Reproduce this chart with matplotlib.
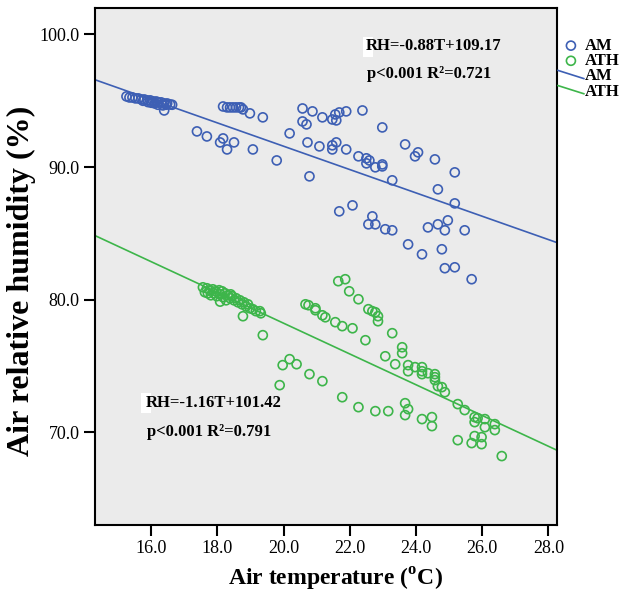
"""
Air relative humidity vs air temperature, AM vs ATH sites, with linear fits.
"""
import matplotlib
matplotlib.use("Agg")
import matplotlib.pyplot as plt
from matplotlib.legend_handler import HandlerBase
from matplotlib.lines import Line2D
from matplotlib.patches import Rectangle
import numpy as np

plt.rcParams["font.family"] = ["Liberation Serif", "DejaVu Serif"]
plt.rcParams["mathtext.fontset"] = "custom"
plt.rcParams["mathtext.rm"] = "Liberation Serif"
plt.rcParams["mathtext.bf"] = "Liberation Serif:bold"

BLUE  = "#3d5fb4"
GREEN = "#3db54a"
BG    = "#ebebeb"

# --- AM (blue) -------------------------------------------------------------
am_t = [15.25, 15.34, 15.43, 15.52, 15.61, 15.70, 15.79, 15.88, 15.97, 16.06,
        16.15, 16.21, 16.30, 16.39, 16.48, 16.57, 15.75, 15.90, 16.00, 16.10,
        16.20, 16.35, 16.45, 16.39, 16.63,
        18.17, 18.29, 18.38, 18.47, 18.56, 18.65, 18.71, 18.77, 18.98, 19.37,
        17.38, 17.68, 18.08, 18.17, 18.29, 18.50, 19.07, 19.79, 20.18, 20.57,
        20.57, 20.69, 20.72, 20.78, 20.87, 21.17, 21.47, 21.56, 21.59, 21.68,
        21.89, 22.38, 22.98, 21.08, 21.47, 21.47, 21.59, 21.89, 22.26, 22.50,
        22.50, 22.59, 22.77, 22.98, 22.98, 23.28, 23.67, 23.97, 24.06, 24.57,
        25.17, 24.66, 25.17, 21.68, 22.08, 22.68, 22.56, 22.77, 23.07, 23.28,
        24.36, 24.66, 24.87, 24.96, 25.47, 23.76, 24.18, 24.78, 24.87, 25.17,
        25.68]
am_rh = [95.33, 95.25, 95.25, 95.18, 95.18, 95.10, 95.10, 95.03, 95.03, 94.95,
         94.95, 94.88, 94.88, 94.80, 94.80, 94.72, 95.00, 94.90, 94.85, 94.80,
         94.70, 94.65, 94.70, 94.27, 94.70,
         94.57, 94.50, 94.50, 94.50, 94.50, 94.50, 94.50, 94.35, 94.05, 93.75,
         92.69, 92.31, 91.86, 92.16, 91.33, 91.86, 91.33, 90.50, 92.54, 94.42,
         93.44, 93.22, 91.86, 89.30, 94.20, 93.75, 93.59, 93.97, 93.52, 94.12,
         94.20, 94.27, 92.99, 91.56, 91.64, 91.33, 91.86, 91.33, 90.81, 90.66,
         90.28, 90.50, 89.98, 90.20, 90.05, 89.00, 91.71, 90.81, 91.11, 90.58,
         89.60, 88.32, 87.26, 86.66, 87.11, 86.28, 85.68, 85.68, 85.31, 85.23,
         85.45, 85.68, 85.23, 85.98, 85.23, 84.17, 83.42, 83.80, 82.37, 82.44,
         81.54]

# --- ATH (green) -----------------------------------------------------------
ath_t = [17.56, 17.62, 17.68, 17.71, 17.77, 17.80, 17.86, 17.89, 17.95, 17.98,
         18.05, 18.08, 18.14, 18.17, 18.23, 18.26, 18.32, 18.38, 18.44, 18.50,
         18.56, 18.62, 18.68, 18.74, 18.80, 18.86, 18.92, 18.98, 19.07, 19.16,
         19.28, 19.31, 18.77, 18.08, 18.40,
         19.37, 19.88, 19.97, 20.18, 20.39, 20.66, 20.75, 20.96, 20.96, 21.17,
         21.26, 21.56, 21.77, 22.08, 20.78, 21.17, 21.77, 21.65, 21.86, 21.98,
         22.26, 22.56, 22.68, 22.77, 22.85, 22.85, 22.47, 23.28, 23.58, 23.58,
         23.07, 23.37, 23.76, 23.76, 23.97, 24.18, 24.18, 24.18, 24.36, 24.57,
         24.57, 24.57, 24.66, 24.78, 24.87, 25.26, 25.47, 25.77, 25.77, 25.86,
         26.08, 26.08, 26.38, 26.38, 22.26, 22.77, 23.16, 23.67, 23.76, 23.67,
         24.18, 24.48, 24.48, 25.26, 25.77, 25.68, 25.98, 25.98, 26.59]
ath_rh = [80.93, 80.56, 80.86, 80.48, 80.71, 80.33, 80.78, 80.48, 80.63, 80.26,
          80.71, 80.41, 80.63, 80.18, 80.48, 79.95, 80.33, 80.11, 80.26, 79.95,
          80.11, 79.80, 79.95, 79.65, 79.80, 79.50, 79.65, 79.35, 79.28, 79.13,
          79.13, 78.97, 78.75, 79.85, 80.40,
          77.32, 73.55, 75.06, 75.51, 75.13, 79.65, 79.58, 79.35, 79.20, 78.82,
          78.67, 78.30, 78.00, 77.84, 74.38, 73.85, 72.64, 81.39, 81.54, 80.63,
          80.03, 79.28, 79.13, 79.05, 78.75, 78.37, 76.94, 77.47, 76.41, 75.96,
          75.73, 75.13, 75.06, 74.60, 74.91, 74.91, 74.60, 74.38, 74.45, 74.38,
          74.15, 73.93, 73.47, 73.40, 73.02, 72.12, 71.67, 71.14, 70.76, 71.06,
          70.99, 70.38, 70.61, 70.16, 71.89, 71.59, 71.59, 72.19, 71.74, 71.29,
          70.99, 71.14, 70.46, 69.40, 69.71, 69.18, 69.63, 69.10, 68.20]

# fitted lines: RH = slope * T + intercept
am_fit  = (-0.88, 109.17)
ath_fit = (-1.16, 101.42)

XLIM = (14.3, 28.26)
YLIM = (63.0, 102.0)
xticks = [16, 18, 20, 22, 24, 26, 28]
yticks = [70, 80, 90, 100]


class SlantLine(HandlerBase):
    # SPSS draws the fit-line legend keys as short diagonal strokes
    def create_artists(self, legend, orig_handle, xdescent, ydescent,
                       width, height, fontsize, trans):
        ln = Line2D([-xdescent, width - xdescent],
                    [height * 0.85 - ydescent, height * 0.15 - ydescent],
                    color=orig_handle.get_color(),
                    lw=orig_handle.get_linewidth(), transform=trans)
        return [ln]


fig = plt.figure(figsize=(6.21, 5.95), dpi=100)
ax = fig.add_axes([0.153, 0.1176, 0.744, 0.869])
ax.set_facecolor(BG)

sc_am = ax.scatter(am_t, am_rh, s=42, facecolors="none", edgecolors=BLUE,
                   linewidths=1.2, zorder=3)
sc_ath = ax.scatter(ath_t, ath_rh, s=42, facecolors="none", edgecolors=GREEN,
                    linewidths=1.2, zorder=3)

xx = np.array(XLIM)
ln_am, = ax.plot(xx, am_fit[0] * xx + am_fit[1], color=BLUE, lw=1.2, zorder=2)
ln_ath, = ax.plot(xx, ath_fit[0] * xx + ath_fit[1], color=GREEN, lw=1.2, zorder=2)

ax.set_xlim(*XLIM)
ax.set_ylim(*YLIM)
ax.set_xticks(xticks)
ax.set_yticks(yticks)
ax.set_xticklabels([f"{v:.1f}" for v in xticks])
ax.set_yticklabels([f"{v:.1f}" for v in yticks])
ax.tick_params(direction="out", length=8, width=1.5, labelsize=13, pad=3)
for sp in ax.spines.values():
    sp.set_linewidth(1.5)

ax.set_xlabel("Air temperature ($^{\\mathbf{o}}$C)", fontsize=17,
              fontweight="bold")
ax.xaxis.set_label_coords(0.52, -0.079)
ax.set_ylabel("Air relative humidity (%)", fontsize=23, fontweight="bold")
ax.yaxis.set_label_coords(-0.128, 0.472)

# little white paste-over boxes behind the "R" of each equation (as in source)
for bx, by in [(0.580, 0.905), (0.0996, 0.2166)]:
    ax.add_patch(Rectangle((bx, by), 0.0216, 0.0387, transform=ax.transAxes,
                           facecolor="white", edgecolor="none", zorder=4))

# fit annotations
ax.text(0.587, 0.927, "RH=-0.88T+109.17", transform=ax.transAxes,
        fontsize=12, fontweight="bold", va="center", ha="left", zorder=5)
ax.text(0.589, 0.873, "p<0.001 R\u00b2=0.721", transform=ax.transAxes,
        fontsize=12, fontweight="bold", va="center", ha="left", zorder=5)
ax.text(0.110, 0.236, "RH=-1.16T+101.42", transform=ax.transAxes,
        fontsize=12, fontweight="bold", va="center", ha="left", zorder=5)
ax.text(0.112, 0.180, "p<0.001 R\u00b2=0.791", transform=ax.transAxes,
        fontsize=12, fontweight="bold", va="center", ha="left", zorder=5)

fig.legend([sc_am, sc_ath, ln_am, ln_ath], ["AM", "ATH", "AM", "ATH"],
           loc="upper left", bbox_to_anchor=(558 / 621, 1 - 38 / 595),
           frameon=False, borderpad=0, borderaxespad=0, handlelength=1.55,
           handletextpad=0.05, labelspacing=-0.05,
           prop={"weight": "bold", "size": 12},
           handler_map={ln_am: SlantLine(), ln_ath: SlantLine()})

fig.savefig("out.png", dpi=100)
